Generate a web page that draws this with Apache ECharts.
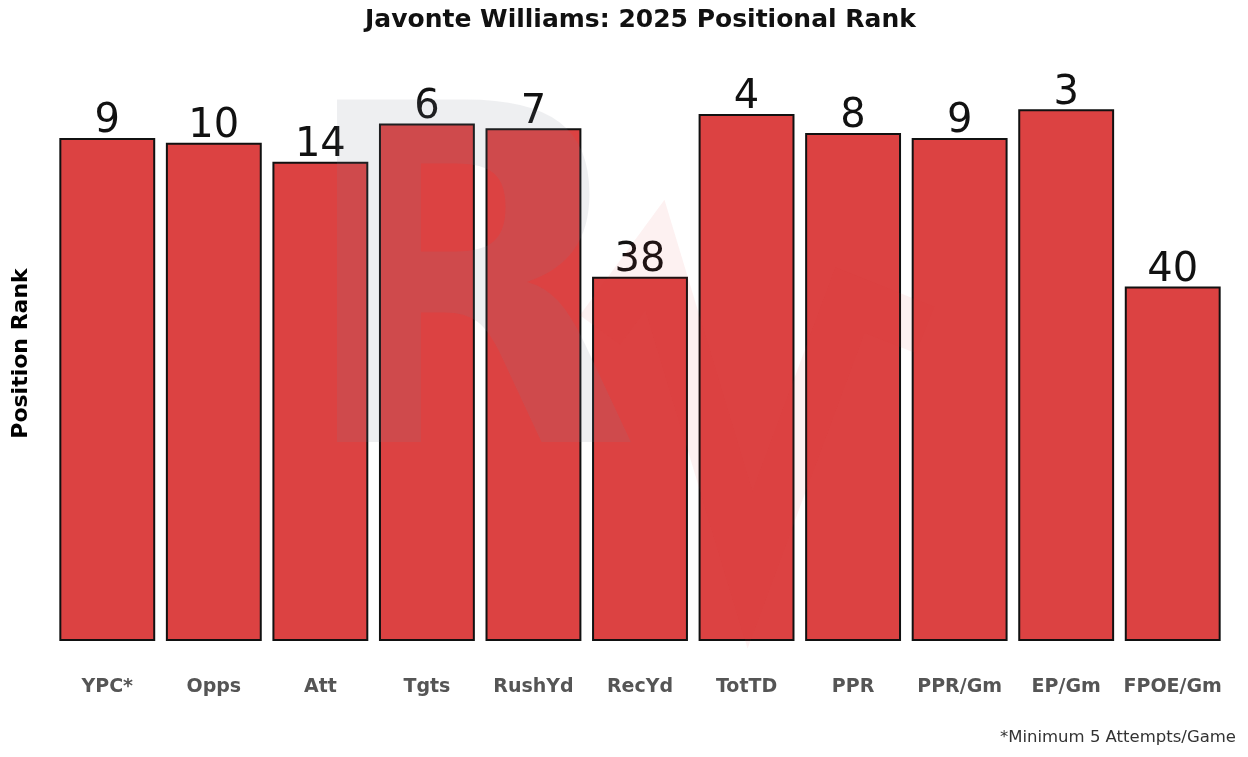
<!DOCTYPE html>
<html>
<head>
<meta charset="utf-8">
<script src="https://cdn.jsdelivr.net/npm/echarts@6/dist/echarts.min.js"></script>
<style>html,body{margin:0;padding:0;background:#fff}#c{width:1248px;height:757px}</style>
</head>
<body>
<div id="c"></div>
<script>
const categories = ["YPC*", "Opps", "Att", "Tgts", "RushYd", "RecYd", "TotTD", "PPR", "PPR/Gm", "EP/Gm", "FPOE/Gm"];
const ranks = [9, 10, 14, 6, 7, 38, 4, 8, 9, 3, 40];
const rankBase = 114; // bar height = rankBase - rank

const chart = echarts.init(document.getElementById('c'));
const F = "DejaVu Sans";
chart.setOption({
  animation: false,
  backgroundColor: '#fff',
  title: {
    text: 'Javonte Williams: 2025 Positional Rank',
    left: 360, top: 3,
    textStyle: { fontFamily: F, fontWeight: 'bold', fontSize: 25, color: '#111' }
  },
  grid: { left: 54, right: 22, top: 66, bottom: 116 },
  xAxis: {
    type: 'category', data: categories,
    axisLine: { show: false }, axisTick: { show: false },
    axisLabel: { interval: 0, margin: 37, fontFamily: F, fontWeight: 'bold', fontSize: 19, color: '#555' }
  },
  yAxis: {
    type: 'value', min: 0, max: 120,
    name: 'Position Rank', nameLocation: 'middle', nameGap: 22,
    nameTextStyle: { fontFamily: F, fontWeight: 'bold', fontSize: 22, color: '#000' },
    axisLine: { show: false }, axisTick: { show: false }, axisLabel: { show: false },
    splitLine: { show: false }
  },
  series: [{
    type: 'bar',
    data: ranks.map(r => ({ value: rankBase - r, rank: r })),
    barCategoryGap: '10%',
    itemStyle: { color: '#dc4242', borderColor: '#111', borderWidth: 2 },
    label: {
      show: true, position: 'top', distance: -4,
      formatter: p => String(ranks[p.dataIndex]),
      fontFamily: F, fontSize: 40, color: '#111'
    }
  }],
  graphic: [
    { type: 'text', x: 296, y: 85, scaleX: 0.95, z: 100, silent: true,
      style: { text: 'R', font: 'bold 470px "DejaVu Sans"', fill: 'rgba(120,130,150,0.13)' } },
    { type: 'polyline', z: 100, silent: true,
      shape: { points: [[600, 330], [655, 255], [750, 570], [850, 300], [925, 330]] },
      style: { stroke: 'rgba(220,60,60,0.07)', lineWidth: 50, fill: 'none', lineJoin: 'miter' } },
    { type: 'text', right: 12, top: 729,
      style: { text: '*Minimum 5 Attempts/Game', font: '16.5px "DejaVu Sans"', fill: '#333', textAlign: 'right' } }
  ]
});
</script>
</body>
</html>
